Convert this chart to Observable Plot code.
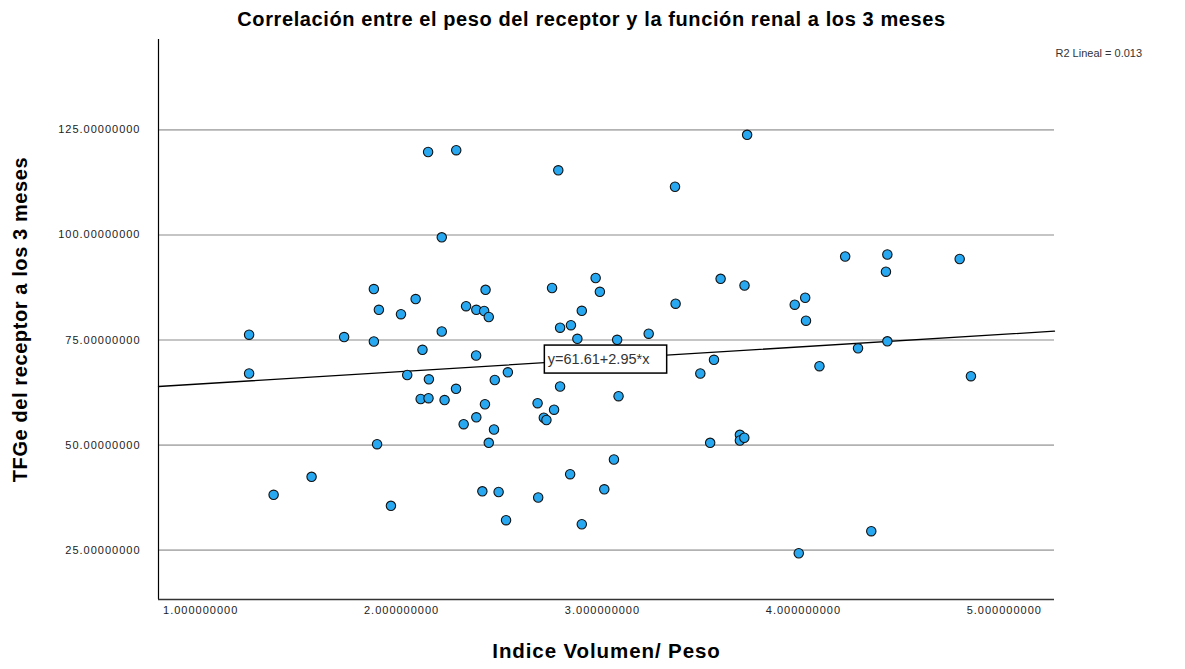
<!DOCTYPE html>
<html>
<head>
<meta charset="utf-8">
<script src="https://cdn.jsdelivr.net/npm/d3@7"></script>
<script src="https://cdn.jsdelivr.net/npm/@observablehq/plot@0.6"></script>
<style>
  html, body { margin: 0; padding: 0; background: #fff; }
  #chart svg { display: block; }
  #chart g[aria-label="y-axis tick label"] text,
  #chart g[aria-label="x-axis tick label"] text { letter-spacing: 1px; }
</style>
</head>
<body>
<div id="chart"></div>
<script>
// ---- Data ----
const indiceVolumenPeso = [
  1.241, 1.241, 1.363, 1.552, 1.714, 1.862, 1.862, 1.878, 1.887, 1.947,
  1.997, 2.028, 2.070, 2.095, 2.104, 2.132, 2.134, 2.136, 2.200, 2.200,
  2.214, 2.271, 2.272, 2.309, 2.321, 2.372, 2.371, 2.372, 2.402, 2.411,
  2.415, 2.418, 2.434, 2.434, 2.460, 2.464, 2.483, 2.520, 2.529, 2.677,
  2.680, 2.708, 2.721, 2.749, 2.759, 2.780, 2.789, 2.789, 2.839, 2.843,
  2.875, 2.897, 2.897, 2.966, 2.987, 3.009, 3.057, 3.073, 3.080, 3.230,
  3.361, 3.364, 3.487, 3.536, 3.555, 3.588, 3.684, 3.684, 3.706, 3.707,
  3.720, 3.957, 3.977, 4.009, 4.013, 4.080, 4.208, 4.272, 4.338, 4.418,
  4.411, 4.418, 4.778, 4.834
];
const tfgeReceptor3m = [
  76.26, 67.03, 38.17, 42.45, 75.71, 87.13, 74.64, 50.21, 82.19, 35.55,
  81.14, 66.67, 84.75, 60.96, 72.67, 119.73, 61.15, 65.65, 77.02, 99.43,
  60.72, 63.39, 120.16, 54.97, 83.04, 82.19, 71.31, 56.61, 39.00, 81.90,
  59.72, 86.94, 80.47, 50.54, 53.71, 65.48, 38.84, 32.13, 67.32, 59.96,
  37.53, 56.51, 55.97, 87.37, 58.42, 115.38, 77.93, 63.94, 43.07, 78.52,
  75.29, 81.95, 31.17, 89.75, 86.47, 39.48, 46.57, 75.05, 61.63, 76.50,
  111.47, 83.64, 67.03, 50.54, 70.29, 89.56, 52.44, 51.09, 51.75, 87.97,
  123.82, 83.40, 24.27, 85.06, 79.59, 68.77, 94.87, 73.03, 29.51, 95.34,
  91.25, 74.69, 94.27, 66.39
];
const xTicks = [1, 2, 3, 4, 5];
const yTicks = [25, 50, 75, 100, 125];
const fitIntercept = 61.61;
const fitSlope = 2.95;
const r2Text = "R2 Lineal = 0.013";
const eqText = "y=61.61+2.95*x";
const titleText = "Correlación entre el peso del receptor y la función renal a los 3 meses";
const xTitle = "Indice Volumen/ Peso";
const yTitle = "TFGe del receptor a los 3 meses";

// ---- Scales / layout ----
const xDomain = [0.79, 5.25];
const yDomain = [13.26, 146.5];
const eqLabelPos = {x: 2.728, y: 70.38};

const points = indiceVolumenPeso.map((x, i) => ({x, y: tfgeReceptor3m[i]}));
const fitLine = xDomain.map(x => ({x, y: fitIntercept + fitSlope * x}));

const font = "'Liberation Sans', Arial, Helvetica, sans-serif";

const chart = Plot.plot({
  width: 1185,
  height: 669,
  marginLeft: 158,
  marginRight: 131,
  marginTop: 39,
  marginBottom: 70,
  x: {domain: xDomain},
  y: {domain: yDomain},
  style: {fontFamily: font, background: "#fff", color: "#000"},
  marks: [
    Plot.gridY(yTicks, {stroke: "#b2b2b2", strokeOpacity: 1, strokeWidth: 1.6}),
    Plot.axisY(yTicks, {tickSize: 0, tickPadding: 18, tickFormat: d => d.toFixed(8), fontSize: 11, fill: "#222", label: null}),
    Plot.axisX(xTicks, {tickSize: 0, tickPadding: 7, tickFormat: d => d.toFixed(9), fontSize: 11, fill: "#222", label: null}),
    Plot.ruleX([xDomain[0]], {stroke: "#000", strokeWidth: 1.2}),
    Plot.ruleY([yDomain[0]], {stroke: "#333", strokeWidth: 1.6}),
    Plot.line(fitLine, {x: "x", y: "y", stroke: "#000", strokeWidth: 1.3}),
    Plot.dot(points, {x: "x", y: "y", r: 4.7, fill: "#28a8f0", stroke: "#111", strokeWidth: 1.1}),
    Plot.text([eqText], {x: () => eqLabelPos.x, y: () => eqLabelPos.y, text: d => d, textAnchor: "start", lineAnchor: "middle", fontSize: 14.5, fill: "#333"}),
    Plot.text([titleText], {frameAnchor: "top", text: d => d, textAnchor: "middle", dx: -15, dy: -20, lineAnchor: "middle", fontSize: 20, fontWeight: "bold", fill: "#000"}),
    Plot.text([r2Text], {frameAnchor: "top-right", text: d => d, textAnchor: "start", lineAnchor: "middle", dx: 1, dy: 14, fontSize: 11, fill: "#333"}),
    Plot.text([xTitle], {frameAnchor: "bottom", text: d => d, textAnchor: "middle", dy: 52, lineAnchor: "middle", fontSize: 20.5, fontWeight: "bold", fill: "#000"}),
    Plot.text([yTitle], {frameAnchor: "left", text: d => d, textAnchor: "middle", dx: -138, rotate: -90, lineAnchor: "middle", fontSize: 20, fontWeight: "bold", fill: "#000"})
  ]
});

document.getElementById("chart").appendChild(chart);

const allText = Array.from(chart.querySelectorAll("text"));
// letter spacing of the titles, as in the reference rendering
for (const t of allText) {
  const s = t.textContent;
  if (s === titleText || s === yTitle) t.setAttribute("letter-spacing", "0.6");
  if (s === xTitle) t.setAttribute("letter-spacing", "0.9");
}

// Box behind the regression-equation label
const t = allText.find(el => el.textContent === eqText);
if (t) {
  const bb = t.getBBox();
  const rect = document.createElementNS("http://www.w3.org/2000/svg", "rect");
  rect.setAttribute("x", bb.x - 3.5);
  rect.setAttribute("y", bb.y + bb.height / 2 - 14);
  rect.setAttribute("width", bb.width + 20);
  rect.setAttribute("height", 28);
  rect.setAttribute("fill", "#fff");
  rect.setAttribute("stroke", "#000");
  rect.setAttribute("stroke-width", 1.5);
  if (t.getAttribute("transform")) rect.setAttribute("transform", t.getAttribute("transform"));
  t.parentNode.insertBefore(rect, t);
}
</script>
</body>
</html>
